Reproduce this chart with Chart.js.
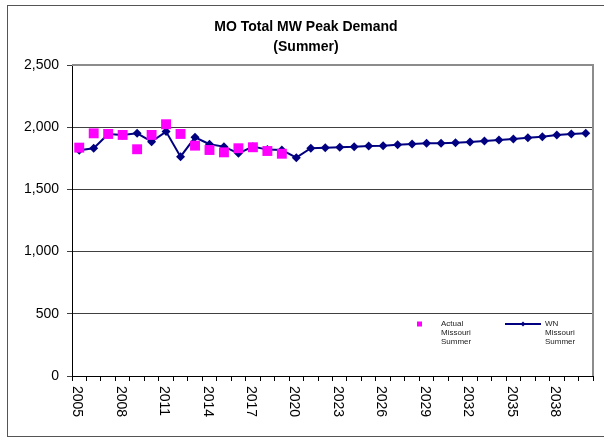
<!DOCTYPE html>
<html>
<head>
<meta charset="utf-8">
<script src="https://cdn.jsdelivr.net/npm/chart.js@4.4.0/dist/chart.umd.min.js"></script>
<style>
  html, body { margin: 0; padding: 0; background: #fff; }
  canvas { display: block; }
</style>
</head>
<body>
<canvas id="peakChart" width="604" height="438"></canvas>
<script>
// Years on the category axis
const years = [];
for (let y = 2005; y <= 2040; y++) years.push(String(y));

// Actual summer peak (MW), 2005-2019
const actualSummer = [1836, 1951, 1946, 1938, 1823, 1938, 2024, 1946, 1852, 1817,
                      1798, 1831, 1839, 1809, 1787];

// Weather-normalized summer peak (MW), 2005-2040
const wnSummer = [1815, 1831, 1946, 1938, 1951, 1884, 1965, 1763, 1919, 1863,
                  1844, 1790, 1844, 1820, 1817, 1755, 1831, 1836, 1840, 1843,
                  1849, 1852, 1860, 1865, 1871, 1871, 1876, 1881, 1889, 1898,
                  1906, 1916, 1924, 1938, 1946, 1951];

const yTicks = [0, 500, 1000, 1500, 2000, 2500];
const legendNames = [['Actual', 'Missouri', 'Summer'], ['WN', 'Missouri', 'Summer']];

const FONT = 'Arial, "Liberation Sans", sans-serif';

/**
 * Extra drawing: frame, rotated year labels, in-plot legend
 */
const decorations = {
    id: 'decorations',
    beforeDatasetsDraw(chart) {
        const { ctx, chartArea: a } = chart;
        ctx.save();
        ctx.strokeStyle = '#8c8c8c';
        ctx.lineWidth = 2;
        ctx.beginPath();
        ctx.moveTo(a.left, a.top);
        ctx.lineTo(a.right, a.top);
        ctx.lineTo(a.right, a.bottom);
        ctx.stroke();
        ctx.restore();
    },
    afterDraw(chart) {
        const { ctx, chartArea: a } = chart;
        const xs = chart.scales.x;
        ctx.save();

        // outer chart border
        ctx.strokeStyle = '#555';
        ctx.lineWidth = 1;
        ctx.strokeRect(7.5, 5.5, 610, 431);

        // year labels, every third year, rotated clockwise
        ctx.fillStyle = '#000';
        ctx.font = '14px ' + FONT;
        ctx.textAlign = 'left';
        ctx.textBaseline = 'middle';
        years.forEach((lab, i) => {
            if (i % 3 !== 0) return;
            ctx.save();
            ctx.translate(xs.getPixelForValue(i) - 2, a.bottom + 10);
            ctx.rotate(Math.PI / 2);
            ctx.fillText(lab, 0, 0);
            ctx.restore();
        });

        // legend
        const ds = chart.data.datasets;
        const ly = a.bottom - 52;
        ctx.font = '8px ' + FONT;

        ctx.fillStyle = ds[0].backgroundColor;
        ctx.fillRect(417, ly - 2.5, 5, 5);
        ctx.fillStyle = '#222';
        legendNames[0].forEach((t, k) => ctx.fillText(t, 441, ly + k * 9));

        ctx.strokeStyle = ds[1].borderColor;
        ctx.lineWidth = 2;
        ctx.beginPath();
        ctx.moveTo(505, ly);
        ctx.lineTo(541, ly);
        ctx.stroke();
        ctx.fillStyle = ds[1].backgroundColor;
        ctx.beginPath();
        ctx.moveTo(523, ly - 2.5);
        ctx.lineTo(525.5, ly);
        ctx.lineTo(523, ly + 2.5);
        ctx.lineTo(520.5, ly);
        ctx.closePath();
        ctx.fill();
        ctx.fillStyle = '#222';
        legendNames[1].forEach((t, k) => ctx.fillText(t, 545, ly + k * 9));

        ctx.restore();
    }
};

function initChart() {
    const ctx = document.getElementById('peakChart').getContext('2d');
    new Chart(ctx, {
        type: 'line',
        data: {
            labels: years,
            datasets: [{
                label: 'Actual Missouri Summer',
                data: actualSummer,
                showLine: false,
                pointStyle: 'rect',
                pointRadius: 7,
                pointHoverRadius: 7,
                backgroundColor: '#ff00ff',
                borderColor: '#ff00ff',
                borderWidth: 0
            }, {
                label: 'WN Missouri Summer',
                data: wnSummer,
                borderColor: '#000080',
                backgroundColor: '#000080',
                borderWidth: 2,
                tension: 0,
                pointStyle: 'rectRot',
                pointRadius: 4.5,
                pointHoverRadius: 4.5,
                pointBorderWidth: 0
            }]
        },
        options: {
            responsive: false,
            animation: false,
            layout: { padding: { left: 8, right: 0, top: 0, bottom: 0 } },
            plugins: {
                legend: { display: false },
                tooltip: { enabled: false },
                title: {
                    display: true,
                    text: ['MO Total MW Peak Demand', '(Summer)'],
                    color: '#000',
                    font: { family: FONT, size: 14, weight: 'bold', lineHeight: 1.43 },
                    padding: { top: 17, bottom: 8 }
                }
            },
            scales: {
                x: {
                    type: 'category',
                    offset: true,
                    grid: {
                        offset: true,
                        drawOnChartArea: false,
                        tickLength: 5,
                        color: '#000'
                    },
                    border: { color: '#000', width: 1 },
                    ticks: { display: false, autoSkip: false },
                    afterFit(scale) {
                        scale.height = 62;
                        scale.paddingRight = 11;
                    }
                },
                y: {
                    min: yTicks[0],
                    max: yTicks[yTicks.length - 1],
                    afterBuildTicks(scale) {
                        scale.ticks = yTicks.map(v => ({ value: v }));
                    },
                    ticks: {
                        color: '#000',
                        padding: 8,
                        font: { family: FONT, size: 14 },
                        callback: v => v.toLocaleString('en-US')
                    },
                    grid: { color: '#404040', tickLength: 5 },
                    border: { color: '#000', width: 1 },
                    afterFit(scale) {
                        scale.width = 64;
                    }
                }
            }
        },
        plugins: [decorations]
    });
}

document.addEventListener('DOMContentLoaded', initChart);
</script>
</body>
</html>
